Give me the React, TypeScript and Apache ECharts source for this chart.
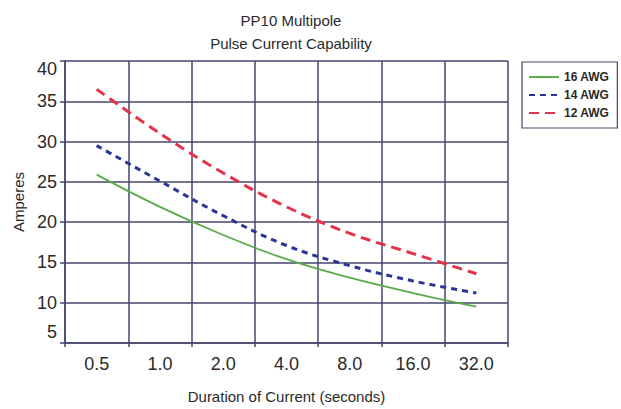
import React, { useEffect, useRef } from "react";
import * as echarts from "echarts";

const durations = ["0.5", "1.0", "2.0", "4.0", "8.0", "16.0", "32.0"];
const awg16 = [25.9, 21.9, 18.4, 15.4, 13.1, 11.2, 9.5];
const awg14 = [29.5, 25.1, 20.8, 17.1, 14.6, 12.7, 11.2];
const awg12 = [36.5, 31.0, 26.1, 21.9, 18.6, 16.1, 13.6];

const GRID = "#45466e";
const FONT = "Liberation Sans, Arial, sans-serif";

export default function App() {
  const ref = useRef<HTMLDivElement>(null);
  useEffect(() => {
    if (!ref.current) return;
    const chart = echarts.init(ref.current, null, { renderer: "svg" });
    chart.setOption({
      animation: false,
      backgroundColor: "#ffffff",
      textStyle: { fontFamily: FONT },
      title: {
        text: "PP10 Multipole\nPulse Current Capability",
        left: 286,
        top: 4,
        textAlign: "center",
        textStyle: { fontSize: 15, fontWeight: "normal", color: "#2a2a2a", lineHeight: 23, fontFamily: FONT },
      },
      legend: {
        orient: "vertical",
        left: 522,
        top: 62,
        padding: [9, 8, 9, 6],
        borderColor: GRID,
        borderWidth: 1.2,
        itemWidth: 30,
        itemHeight: 12,
        itemGap: 6,
        itemStyle: { opacity: 0 },
        textStyle: { fontSize: 12, fontWeight: "bold", color: "#2a2a2a", fontFamily: FONT },
        data: ["16 AWG", "14 AWG", "12 AWG"],
      },
      grid: { left: 65, right: 113, top: 61, bottom: 65 },
      xAxis: {
        type: "category",
        data: durations,
        boundaryGap: true,
        name: "Duration of Current (seconds)",
        nameLocation: "middle",
        nameGap: 46,
        nameTextStyle: { fontSize: 15, color: "#2a2a2a", fontFamily: FONT },
        axisLine: { lineStyle: { color: GRID, width: 1.5 } },
        axisTick: { show: true, length: 4, lineStyle: { color: GRID, width: 1.5 } },
        axisLabel: { fontSize: 18, color: "#2a2a2a", margin: 12, fontFamily: FONT },
        splitLine: { show: true, lineStyle: { color: GRID, width: 1.5 } },
      },
      yAxis: {
        type: "value",
        min: 5,
        max: 40,
        interval: 5,
        name: "Amperes",
        nameLocation: "middle",
        nameGap: 37,
        nameTextStyle: { fontSize: 15, color: "#2a2a2a", fontFamily: FONT },
        axisLine: { show: true, lineStyle: { color: GRID, width: 1.5 } },
        axisTick: { show: true, length: 5, lineStyle: { color: GRID, width: 1.5 } },
        axisLabel: {
          fontSize: 18,
          color: "#2a2a2a",
          margin: 8,
          fontFamily: FONT,
          formatter: (v: number) => (v === 5 ? "{lo|5}" : v === 40 ? "{hi|40}" : String(v)),
          rich: {
            lo: { fontSize: 18, color: "#2a2a2a", padding: [0, 0, 22, 0], fontFamily: FONT },
            hi: { fontSize: 18, color: "#2a2a2a", padding: [16, 0, 0, 0], fontFamily: FONT },
          },
        },
        splitLine: { show: true, lineStyle: { color: GRID, width: 1.5 } },
      },
      series: [
        {
          name: "16 AWG",
          type: "line",
          data: awg16,
          smooth: 0.4,
          symbol: "none",
          itemStyle: { color: "#5aab48" },
          lineStyle: { color: "#5aab48", width: 1.8, type: "solid" },
        },
        {
          name: "14 AWG",
          type: "line",
          data: awg14,
          smooth: 0.4,
          symbol: "none",
          itemStyle: { color: "#2a3597" },
          lineStyle: { color: "#2a3597", width: 3, type: [6, 5] },
        },
        {
          name: "12 AWG",
          type: "line",
          data: awg12,
          smooth: 0.4,
          symbol: "none",
          itemStyle: { color: "#e5324b" },
          lineStyle: { color: "#e5324b", width: 3, type: [10, 6] },
        },
      ],
    });
    return () => chart.dispose();
  }, []);
  return (
    <div
      ref={ref}
      style={{ position: "fixed", left: 0, top: 0, width: 621, height: 409, background: "#fff" }}
    />
  );
}
